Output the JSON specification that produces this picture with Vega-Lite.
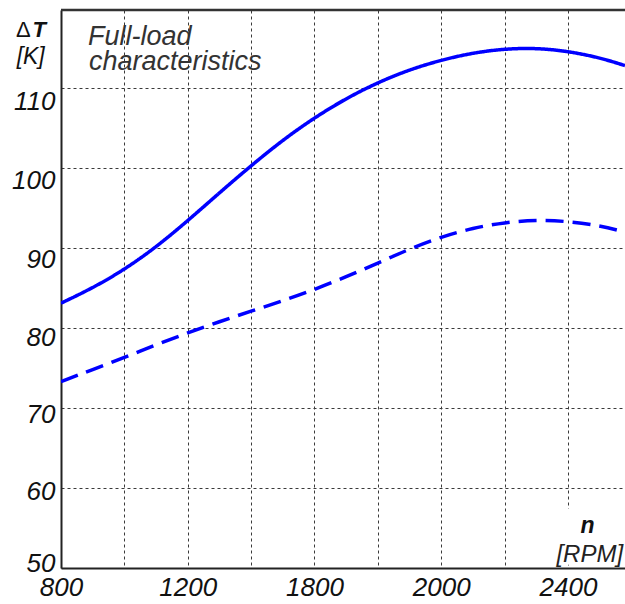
{
  "$schema": "https://vega.github.io/schema/vega-lite/v6.json",
  "width": 564,
  "height": 558,
  "autosize": {"type": "none"},
  "padding": {"left": 61, "top": 10, "right": 0, "bottom": 36},
  "background": "white",
  "config": {
    "view": {"stroke": null},
    "font": "Liberation Sans"
  },
  "layer": [
    {
      "data": {"values": [{}]},
      "mark": {"type": "rect", "fill": "white", "stroke": null},
      "encoding": {
        "x": {"datum": 2370, "type": "quantitative"},
        "x2": {"datum": 2580},
        "y": {"datum": 50.4, "type": "quantitative"},
        "y2": {"datum": 57.4}
      }
    },
    {
      "data": {
        "values": [
          {"series": "solid", "rpm": 800, "dT": 83.1},
          {"series": "solid", "rpm": 900, "dT": 85.0},
          {"series": "solid", "rpm": 1000, "dT": 87.3},
          {"series": "solid", "rpm": 1100, "dT": 90.1},
          {"series": "solid", "rpm": 1200, "dT": 93.4},
          {"series": "solid", "rpm": 1300, "dT": 96.9},
          {"series": "solid", "rpm": 1400, "dT": 100.3},
          {"series": "solid", "rpm": 1500, "dT": 103.5},
          {"series": "solid", "rpm": 1600, "dT": 106.3},
          {"series": "solid", "rpm": 1700, "dT": 108.7},
          {"series": "solid", "rpm": 1800, "dT": 110.7},
          {"series": "solid", "rpm": 1900, "dT": 112.3},
          {"series": "solid", "rpm": 2000, "dT": 113.5},
          {"series": "solid", "rpm": 2100, "dT": 114.4},
          {"series": "solid", "rpm": 2200, "dT": 114.9},
          {"series": "solid", "rpm": 2300, "dT": 115.0},
          {"series": "solid", "rpm": 2400, "dT": 114.6},
          {"series": "solid", "rpm": 2500, "dT": 113.8},
          {"series": "solid", "rpm": 2580, "dT": 112.8},
          {"series": "dashed", "rpm": 800, "dT": 73.3},
          {"series": "dashed", "rpm": 900, "dT": 74.8},
          {"series": "dashed", "rpm": 1000, "dT": 76.3},
          {"series": "dashed", "rpm": 1100, "dT": 77.9},
          {"series": "dashed", "rpm": 1200, "dT": 79.4},
          {"series": "dashed", "rpm": 1300, "dT": 80.8},
          {"series": "dashed", "rpm": 1400, "dT": 82.1},
          {"series": "dashed", "rpm": 1500, "dT": 83.4},
          {"series": "dashed", "rpm": 1600, "dT": 84.8},
          {"series": "dashed", "rpm": 1700, "dT": 86.4},
          {"series": "dashed", "rpm": 1800, "dT": 88.1},
          {"series": "dashed", "rpm": 1900, "dT": 89.9},
          {"series": "dashed", "rpm": 2000, "dT": 91.4},
          {"series": "dashed", "rpm": 2100, "dT": 92.5},
          {"series": "dashed", "rpm": 2200, "dT": 93.2},
          {"series": "dashed", "rpm": 2300, "dT": 93.5},
          {"series": "dashed", "rpm": 2400, "dT": 93.35},
          {"series": "dashed", "rpm": 2500, "dT": 92.8},
          {"series": "dashed", "rpm": 2580, "dT": 92.0}
        ]
      },
      "mark": {"type": "line", "color": "#0000ff", "strokeWidth": 3.5, "interpolate": "basis", "clip": true},
      "encoding": {
        "x": {
          "field": "rpm", "type": "quantitative",
          "scale": {"domain": [800, 2580], "nice": false, "zero": false},
          "axis": {
            "title": null,
            "values": [800, 1000, 1200, 1400, 1600, 1800, 2000, 2200, 2400],
            "labelExpr": "datum.value == 800 ? '800' : datum.value == 1200 ? '1200' : datum.value == 1600 ? '1800' : datum.value == 2000 ? '2000' : datum.value == 2400 ? '2400' : ''",
            "labelFont": "Liberation Sans",
            "labelFontSize": 26,
            "labelFontStyle": "italic",
            "labelColor": "#111111",
            "labelBaseline": "top",
            "labelPadding": 6,
            "labelOverlap": false,
            "labelFlush": false,
            "ticks": false,
            "domainColor": "#222222",
            "domainWidth": 2,
            "grid": true,
            "gridColor": "#3a3a3a",
            "gridDash": [3, 3],
            "gridWidth": 1
          }
        },
        "y": {
          "field": "dT", "type": "quantitative",
          "scale": {"domain": [50, 119.75], "nice": false, "zero": false},
          "axis": {
            "title": null,
            "values": [50, 60, 70, 80, 90, 100, 110],
            "labelFont": "Liberation Sans",
            "labelFontSize": 26,
            "labelFontStyle": "italic",
            "labelColor": "#111111",
            "labelBaseline": "middle",
            "labelPadding": 6,
            "labelOffset": {
              "condition": [
                {"test": "datum.value == 110", "value": 13},
                {"test": "datum.value == 100", "value": 12},
                {"test": "datum.value == 90", "value": 11},
                {"test": "datum.value == 80", "value": 9},
                {"test": "datum.value == 70", "value": 6},
                {"test": "datum.value == 60", "value": 3}
              ],
              "value": -5
            },
            "ticks": false,
            "domainColor": "#222222",
            "domainWidth": 2,
            "grid": true,
            "gridColor": "#3a3a3a",
            "gridDash": [3, 3],
            "gridWidth": 1
          }
        },
        "detail": {"field": "series"},
        "strokeDash": {
          "field": "series", "type": "nominal",
          "scale": {"domain": ["solid", "dashed"], "range": [[1, 0], [18, 9]]},
          "legend": null
        }
      }
    },
    {
      "data": {"values": [{}]},
      "mark": {"type": "rule", "color": "#333333", "strokeWidth": 2.5},
      "encoding": {
        "y": {"datum": 119.75, "type": "quantitative"}
      }
    },
    {
      "data": {"values": [{}]},
      "mark": {"type": "text", "text": "Δ", "align": "left", "baseline": "alphabetic", "font": "Liberation Sans", "fontSize": 22, "color": "#111111"},
      "encoding": {"x": {"datum": 658, "type": "quantitative"}, "y": {"datum": 116.4, "type": "quantitative"}}
    },
    {
      "data": {"values": [{}]},
      "mark": {"type": "text", "text": "T", "align": "left", "baseline": "alphabetic", "font": "Liberation Sans", "fontSize": 22, "fontWeight": "bold", "fontStyle": "italic", "color": "#111111"},
      "encoding": {"x": {"datum": 710, "type": "quantitative"}, "y": {"datum": 116.4, "type": "quantitative"}}
    },
    {
      "data": {"values": [{}]},
      "mark": {"type": "text", "text": "[K]", "align": "left", "baseline": "alphabetic", "font": "Liberation Sans", "fontSize": 23, "fontStyle": "italic", "color": "#111111"},
      "encoding": {"x": {"datum": 660, "type": "quantitative"}, "y": {"datum": 113.0, "type": "quantitative"}}
    },
    {
      "data": {"values": [{}]},
      "mark": {"type": "text", "text": "Full-load", "align": "left", "baseline": "alphabetic", "font": "Liberation Sans", "fontSize": 27, "fontStyle": "italic", "color": "#333333"},
      "encoding": {"x": {"datum": 885, "type": "quantitative"}, "y": {"datum": 115.4, "type": "quantitative"}}
    },
    {
      "data": {"values": [{}]},
      "mark": {"type": "text", "text": "characteristics", "align": "left", "baseline": "alphabetic", "font": "Liberation Sans", "fontSize": 27, "fontStyle": "italic", "color": "#333333"},
      "encoding": {"x": {"datum": 888, "type": "quantitative"}, "y": {"datum": 112.3, "type": "quantitative"}}
    },
    {
      "data": {"values": [{}]},
      "mark": {"type": "text", "text": "n", "align": "center", "baseline": "alphabetic", "font": "Liberation Sans", "fontSize": 23, "fontWeight": "bold", "fontStyle": "italic", "color": "#111111"},
      "encoding": {"x": {"datum": 2462, "type": "quantitative"}, "y": {"datum": 54.4, "type": "quantitative"}}
    },
    {
      "data": {"values": [{}]},
      "mark": {"type": "text", "text": "[RPM]", "align": "right", "baseline": "alphabetic", "font": "Liberation Sans", "fontSize": 24, "fontStyle": "italic", "color": "#222222"},
      "encoding": {"x": {"datum": 2574, "type": "quantitative"}, "y": {"datum": 50.8, "type": "quantitative"}}
    }
  ]
}
